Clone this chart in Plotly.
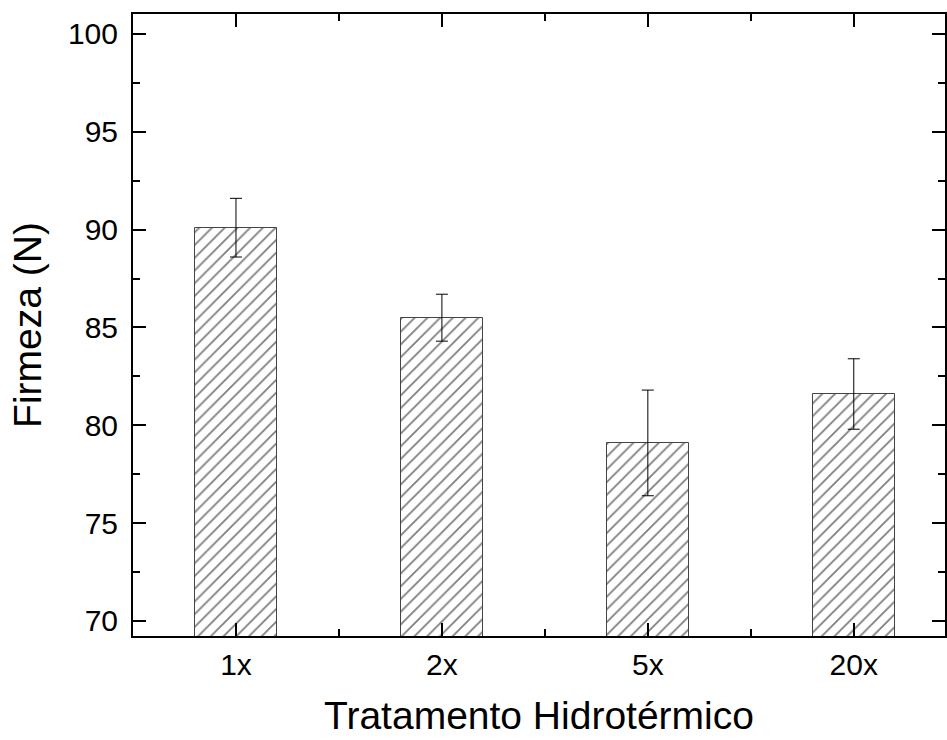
import plotly.graph_objects as go

categories = ["1x", "2x", "5x", "20x"]
firmeza = [90.1, 85.5, 79.1, 81.6]
erro = [1.5, 1.2, 2.7, 1.8]
y_ticks = [70, 75, 80, 85, 90, 95, 100]

xpos = list(range(len(categories)))

fig = go.Figure()
fig.add_trace(go.Bar(
    x=xpos, y=firmeza, width=0.4,
    marker=dict(color="white", line=dict(color="#444444", width=1),
                pattern=dict(shape="/", fgcolor="black", bgcolor="white", size=9, solidity=0.2)),
    error_y=dict(type="data", array=erro, visible=True, color="black", thickness=1, width=6),
    showlegend=False,
))

font = "Liberation Sans, Arial, sans-serif"
fig.update_layout(
    width=947, height=740,
    margin=dict(l=133, r=0, t=14, b=104),
    plot_bgcolor="white", paper_bgcolor="white",
    font=dict(family=font, color="black", size=29),
    bargap=0,
)
fig.update_xaxes(
    range=[-0.5, 3.443], tickvals=xpos, ticktext=categories,
    showline=True, linecolor="black", linewidth=2, mirror="allticks",
    ticks="inside", ticklen=13, tickwidth=2, tickcolor="black",
    minor=dict(tickvals=[0.5, 1.5, 2.5], ticks="inside", ticklen=7, tickwidth=2, tickcolor="black"),
    showgrid=False, zeroline=False,
    tickfont=dict(size=30), ticklabelstandoff=1,
    title=dict(text="Tratamento Hidrotérmico", font=dict(size=39), standoff=22),
)
fig.update_yaxes(
    range=[69.233, 101.02], tickvals=y_ticks,
    showline=True, linecolor="black", linewidth=2, mirror="allticks",
    ticks="inside", ticklen=13, tickwidth=2, tickcolor="black",
    minor=dict(dtick=2.5, tick0=0, ticks="inside", ticklen=7, tickwidth=2, tickcolor="black"),
    showgrid=False, zeroline=False,
    tickfont=dict(size=30), ticklabelstandoff=7,
    title=dict(text="Firmeza (N)", font=dict(size=39), standoff=14),
)

fig.write_html("out.html")
